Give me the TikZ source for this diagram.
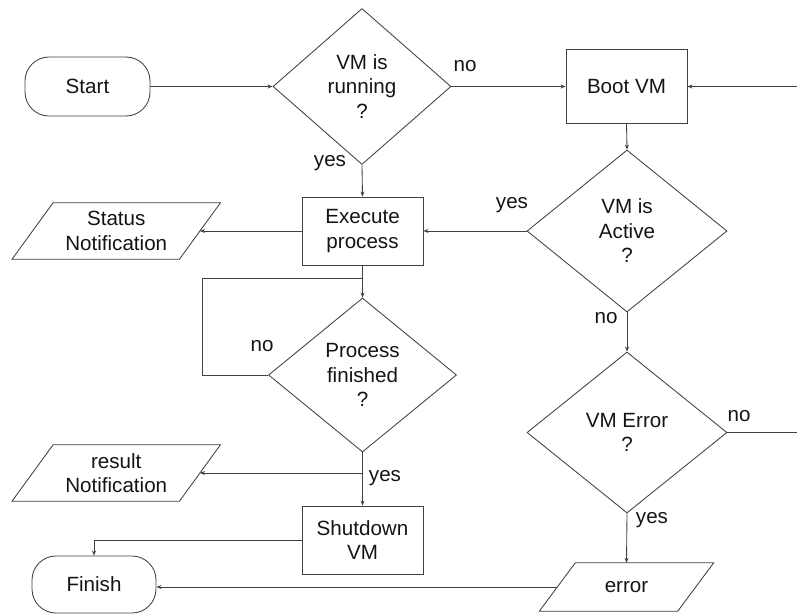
\documentclass[tikz,border=0pt]{standalone}
\usepackage{fontspec}
\setmainfont{Liberation Sans}
\usetikzlibrary{shapes.geometric,arrows.meta}
% slanted input/output box drawn around a plain rectangle node
\newcommand\iodraw[2]{%
  \draw[line] ([xshift=-#2]#1.south west) -- ([xshift=#2]#1.north west)
    -- ([xshift=#2]#1.north east) -- ([xshift=-#2]#1.south east) -- cycle;}
\begin{document}
\begin{tikzpicture}[x=1pt,y=-1pt,
  line/.style={draw=black!75, line width=0.85pt},
  flow/.style={line, -{Stealth[length=5pt,width=4pt]}},
  base/.style={font=\fontsize{20.6}{24.5}\selectfont, align=center, text=black!92, inner sep=0pt},
  terminal/.style={base, line, rectangle, rounded corners=24pt, minimum width=125pt, minimum height=59pt},
  process/.style={base, line, rectangle, minimum width=121pt, minimum height=68pt},
  decision/.style={base, line, diamond},
  iobox/.style={base, rectangle, minimum height=56pt},
  lbl/.style={font=\fontsize{20.6}{24}\selectfont, text=black!92, inner sep=0pt}
]
\useasboundingbox (0,0) rectangle (797,615);

% nodes
\node[terminal] (start) at (87.5,86.5) {Start};
\node[decision, minimum width=178pt, minimum height=156pt] (run) at (362,86.5) {VM is\\running\\?};
\node[process, minimum height=74pt] (boot) at (626.5,86.5) {Boot VM};
\node[decision, minimum width=200pt, minimum height=162pt] (act) at (627,231) {VM is\\Active\\?};
\node[process] (exec) at (362.5,231) {Execute\\process};
\node[iobox, minimum width=167pt] (stat) at (116.25,231) {Status\\Notification};
\iodraw{stat}{20.5pt}
\node[decision, minimum width=188pt, minimum height=154pt] (pf) at (362.5,375) {Process\\finished\\?};
\node[iobox, minimum width=167pt] (res) at (116.25,473) {result\\Notification};
\iodraw{res}{20.5pt}
\node[process] (shut) at (362.5,540) {Shutdown\\VM};
\node[terminal, minimum width=124pt, minimum height=57pt] (finish) at (94,584.5) {Finish};
\node[decision, minimum width=200pt, minimum height=161pt] (err) at (627,432.5) {VM Error\\?};
\node[iobox, minimum width=138pt, minimum height=48pt] (error) at (626.5,587) {error};
\iodraw{error}{18pt}

% free ends and junctions
\coordinate (rin) at (797,86.5);
\coordinate (rout) at (797,432.5);
\coordinate (join) at (362.5,278);
\coordinate (split) at (362.5,473);

% connectors
\draw[flow] (start.east) -- (run.west);
\draw[flow] (run.east) -- (boot.west);
\draw[flow] (rin) -- (boot.east);
\draw[flow] (boot.south) -- (act.north);
\draw[flow] (act.west) -- (exec.east);
\draw[flow] (run.south) -- (exec.north);
\draw[flow] (exec.west) -- (stat.east);
\draw[flow] (exec.south) -- (pf.north);
\draw[line] (pf.west) -- ++(-66,0) |- (join);
\draw[flow] (pf.south) -- (shut.north);
\draw[flow] (split) -- (res.east);
\draw[flow] (shut.west) -| (finish.north);
\draw[flow] (act.south) -- (err.north);
\draw[line] (err.east) -- (rout);
\draw[flow] (err.south) -- (error.north);
\draw[flow] (error.west) -- (error.west -| finish.east);

% branch labels
\node[lbl] (l1) at (465,66) {no};
\node[lbl] (l2) at (330,163) {yes};
\node[lbl] (l3) at (512,205) {yes};
\node[lbl] (l4) at (262,346) {no};
\node[lbl] (l5) at (606,318) {no};
\node[lbl] (l6) at (739,416) {no};
\node[lbl] (l7) at (385,478) {yes};
\node[lbl] (l8) at (652,520) {yes};
\end{tikzpicture}
\end{document}
